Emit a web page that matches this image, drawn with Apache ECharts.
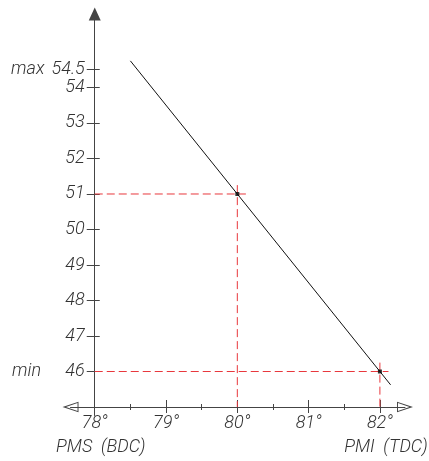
<!DOCTYPE html>
<html><head><meta charset="utf-8">
<script src="https://cdn.jsdelivr.net/npm/echarts@6/dist/echarts.min.js"></script>
<style>html,body{margin:0;padding:0;background:#fff}#c{width:429px;height:461px}</style>
</head><body><div id="c"></div>
<script>
// ---- data ----
const xTicks = [78, 79, 80, 81, 82];
const xMinorTicks = [78.5, 79.5, 80.5, 81.5];
const yTicks = [46, 47, 48, 49, 50, 51, 52, 53, 54];
const yMaxTick = [54.5];
const lineX = [78.5, 82.15];
const lineY = [54.75, 45.625];
const pointX = [80, 82];
const pointY = [51, 46];
const captionAt = [78, 82];
const captions = ['PMS  (BDC)', 'PMI  (TDC)'];
const yName = 'STROKE-CUORSE';
const minText = 'min';
const maxText = 'max';

// ---- axis extents ----
const X_MIN = 77.66, X_MAX = 82.352;
const Y_MIN = 44.761, Y_MAX = 56.07;
const X_AXIS_AT = 45;   // y value where the x axis line sits
const Y_AXIS_AT = 78;   // x value where the y axis line sits
const PX_X = 71.3, PX_Y = 35.5;
const xOff = -(X_AXIS_AT - Y_MIN) * PX_Y;
const yOff = -(Y_AXIS_AT - X_MIN) * PX_X;

const font = 'Roboto';
const txt = '#333';
const axisCol = '#444';
const red = '#e8383d';
const openArrow = 'path://M10,0 L20,30 L0,30 Z M10,6.5 L2.6,28.2 L17.4,28.2 Z';

const lbl = {color: txt, fontFamily: font, fontStyle: 'italic', fontSize: 18, fontWeight: 300};

const xc = {type: 'value', min: X_MIN, max: X_MAX, position: 'bottom', splitLine: {show: false},
  axisLine: {show: false, onZero: false}, axisLabel: {show: false}, axisTick: {show: false}};
const yc = {type: 'value', min: Y_MIN, max: Y_MAX, position: 'left', splitLine: {show: false},
  axisLine: {show: false, onZero: false}, axisLabel: {show: false}, axisTick: {show: false}};

const series = [];
const extX = 0.12, extY = 0.25;
pointX.forEach((px, i) => {
  const py = pointY[i];
  series.push({type: 'line', data: [[Y_AXIS_AT, py], [px + extX, py]], showSymbol: false, silent: true,
    lineStyle: {color: red, width: 1, type: [8, 4]}, z: 2});
  series.push({type: 'line', data: [[px, py + extY], [px, X_AXIS_AT]], showSymbol: false, silent: true,
    lineStyle: {color: red, width: 1, type: [8, 4]}, z: 2});
});
series.push({type: 'line', data: lineX.map((x, i) => [x, lineY[i]]), showSymbol: false, silent: true,
  lineStyle: {color: '#111', width: 1}, z: 3});
series.push({type: 'scatter', data: pointX.map((x, i) => [x, pointY[i]]), symbol: 'rect', symbolSize: 4,
  itemStyle: {color: '#000'}, silent: true, z: 4});

const chart = echarts.init(document.getElementById('c'));
chart.setOption({
  animation: false,
  backgroundColor: '#fff',
  grid: {left: 70.5, right: 24, top: 14, bottom: 45.5, containLabel: false, outerBoundsMode: 'none'},
  xAxis: [
    Object.assign({}, xc, {offset: xOff,
      axisLine: {show: true, onZero: false, symbol: [openArrow, openArrow], symbolSize: [11, 16],
        lineStyle: {color: axisCol, width: 1}},
      axisLabel: Object.assign({show: true, hideOverlap: false, customValues: xTicks, formatter: v => v + '°', margin: 7}, lbl)}),
    Object.assign({}, xc, {offset: xOff - 7,
      axisTick: {show: true, customValues: xTicks, length: 13, lineStyle: {color: axisCol, width: 1}}}),
    Object.assign({}, xc, {offset: xOff - 3,
      axisTick: {show: true, customValues: xMinorTicks, length: 6, lineStyle: {color: axisCol, width: 1}}}),
    Object.assign({}, xc, {offset: xOff,
      axisLabel: Object.assign({show: true, hideOverlap: false, customValues: captionAt, margin: 31,
        formatter: v => '{c|' + captions[captionAt.indexOf(v)] + '}',
        rich: {c: Object.assign({padding: [0, 0, 0, 12]}, lbl)}}, lbl)})
  ],
  yAxis: [
    Object.assign({}, yc, {offset: yOff,
      name: yName, nameLocation: 'middle', nameGap: 70, nameRotate: 90,
      nameTextStyle: {color: txt, fontFamily: font, fontStyle: 'italic', fontSize: 17, fontWeight: 300},
      axisLine: {show: true, onZero: false, symbol: ['none', 'triangle'], symbolSize: [12, 13],
        lineStyle: {color: axisCol, width: 1}},
      axisLabel: Object.assign({show: true, hideOverlap: false, customValues: yTicks, margin: 10,
        formatter: v => v === yTicks[0] ? '{m|' + minText + '}{v|' + v + '}' : String(v),
        rich: {
          m: Object.assign({width: 51.7, align: 'left'}, lbl),
          v: Object.assign({width: 21, align: 'right'}, lbl)
        }}, lbl)}),
    Object.assign({}, yc, {offset: yOff,
      axisLabel: Object.assign({show: true, hideOverlap: false, customValues: yMaxTick, margin: 10,
        formatter: v => '{n|' + maxText + '}{w|' + v + '}',
        rich: {
          n: Object.assign({width: 36.7, align: 'left'}, lbl),
          w: Object.assign({width: 37, align: 'right'}, lbl)
        }}, lbl)}),
    Object.assign({}, yc, {offset: yOff - 5,
      axisTick: {show: true, customValues: yTicks.concat(yMaxTick), length: 13, lineStyle: {color: axisCol, width: 1}}})
  ],
  series: series
});
</script></body></html>
